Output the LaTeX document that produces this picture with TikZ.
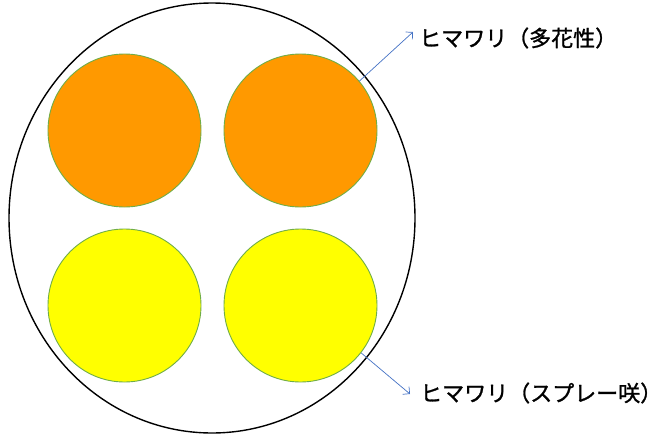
\documentclass[tikz,border=0pt]{standalone}
\usepackage{fontspec}
\newfontfamily\jpfont[FakeBold=1.2]{Noto Sans CJK JP}
\usetikzlibrary{shapes.geometric,arrows.meta}
\definecolor{flowerorange}{HTML}{FF9900}
\definecolor{floweryellow}{HTML}{FFFF00}
\definecolor{rimgreen}{HTML}{70AD47}
\definecolor{arrowblue}{HTML}{4472C4}
\begin{document}
\begin{tikzpicture}[x=1pt,y=-1pt,
  flower/.style={circle,draw=rimgreen,line width=0.9pt,minimum size=153pt,inner sep=0pt},
  label/.style={font=\jpfont\fontsize{22pt}{26pt}\selectfont,inner sep=0pt,anchor=west},
  pointer/.style={draw=arrowblue,line width=0.7pt,-{Straight Barb[length=5pt,width=10pt]}}]
\useasboundingbox (0,0) rectangle (664,434);
\node[ellipse,draw=black,line width=1.4pt,minimum width=406pt,minimum height=430pt,inner sep=0pt] (pot) at (212,218) {};
\node[flower,fill=flowerorange] (o1) at (124.5,130.5) {};
\node[flower,fill=flowerorange] (o2) at (300.5,130.5) {};
\node[flower,fill=floweryellow] (y1) at (124.5,305.5) {};
\node[flower,fill=floweryellow] (y2) at (300.5,305.5) {};
\node[label] (t1) at (419,38) {ヒマワリ（多花性）};
\node[label] (t2) at (420,393) {ヒマワリ（スプレー咲）};
\draw[pointer] (o2.40) -- ([xshift=-6pt,yshift=6pt]t1.west);
\draw[pointer] (y2.-38) -- ([xshift=-10pt,yshift=-1pt]t2.west);
\end{tikzpicture}
\end{document}
